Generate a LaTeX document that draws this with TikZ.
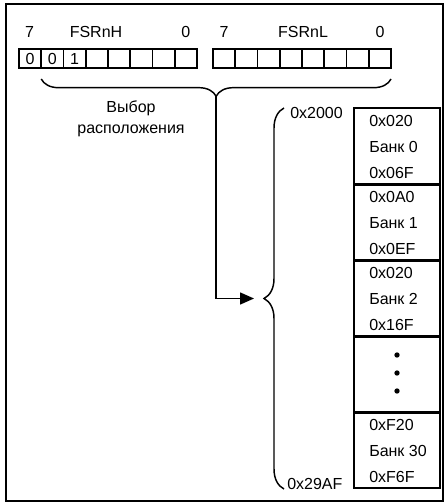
\documentclass[tikz,border=0pt]{standalone}
\usepackage{fontspec}
\setmainfont{Liberation Sans}
\usetikzlibrary{arrows.meta,decorations.pathreplacing}
\begin{document}
\begin{tikzpicture}[x=0.75pt,y=-0.75pt,
  every node/.style={font=\fontsize{12pt}{14pt}\selectfont, inner sep=0pt},
  bitbox/.style={draw, line width=1.2pt, minimum width=16.6875pt, minimum height=14.25pt, text height=8.6pt, text depth=0pt},
  lbl/.style={anchor=base},
  memblk/.style={draw, line width=1pt, minimum width=64.5pt, minimum height=57pt},
  memtxt/.style={anchor=base west},
  memdot/.style={circle, fill, minimum size=4pt},
  conn/.style={line width=1.1pt}
]
\useasboundingbox (0,0) rectangle (444,502);
\draw[line width=1.2pt] (6,4) rectangle (443,501);

% registers
\node[bitbox] (h0) at ({19+22.25*0.5}, 58.5) {0};
\node[bitbox] (h1) at ({19+22.25*1.5}, 58.5) {0};
\node[bitbox] (h2) at ({19+22.25*2.5}, 58.5) {1};
\foreach \i in {3,...,7} {
  \node[bitbox] (h\i) at ({19+22.25*(\i+0.5)}, 58.5) {};
}
\foreach \i in {0,...,7} {
  \node[bitbox] (l\i) at ({213+22.25*(\i+0.5)}, 58.5) {};
}
\node[lbl] (hb7) at (29.6,38) {7};
\node[lbl] (hname) at (96,38) {FSRnH};
\node[lbl] (hb0) at (185.9,38) {0};
\node[lbl] (lb7) at (224.1,38) {7};
\node[lbl] (lname) at (303,38) {FSRnL};
\node[lbl] (lb0) at (380,38) {0};

% location select brace
\coordinate (bs) at (41.25,79);
\coordinate (be) at (391,79);
\draw[conn, decorate, decoration={brace, mirror, amplitude=13pt}] (bs) -- (be);
\coordinate (btip) at (216.1,96.3);
\node[lbl] (sel1) at (131,113) {Выбор};
\node[lbl] (sel2) at (131,134) {расположения};

% address range brace
\coordinate (rs) at (284,108);
\coordinate (re) at (284,489);
\draw[conn, decorate, decoration={brace, mirror, amplitude=15pt}] (rs) -- (re);
\node[anchor=base west] (atop) at (290,119) {0x2000};
\node[anchor=base west] (abot) at (287,489) {0x29AF};

% arrow
\coordinate (atip) at (254,298.5);
\draw[conn, -{Triangle[length=10.5pt,width=9pt]}] (btip) |- (atip);

% memory
\foreach \i in {0,...,4} {
  \node[memblk] (m\i) at (397, {108+76*\i+38}) {};
}
\foreach \i in {0,...,3} {
  \draw[line width=1.5pt] (m\i.south west) -- (m\i.south east);
}
\node[memtxt] (t0a) at (369,126.25) {0x020};
\node[memtxt] (t0b) at (369,152.75) {Банк 0};
\node[memtxt] (t0c) at (369,178.75) {0x06F};
\node[memtxt] (t1a) at (369,202.25) {0x0A0};
\node[memtxt] (t1b) at (369,228.75) {Банк 1};
\node[memtxt] (t1c) at (369,254.75) {0x0EF};
\node[memtxt] (t2a) at (369,278.25) {0x020};
\node[memtxt] (t2b) at (369,304.75) {Банк 2};
\node[memtxt] (t2c) at (369,330.75) {0x16F};
\node[memdot] (d1) at (397,355) {};
\node[memdot] (d2) at (397,373) {};
\node[memdot] (d3) at (397,391) {};
\node[memtxt] (t4a) at (369,430.25) {0xF20};
\node[memtxt] (t4b) at (369,456.75) {Банк 30};
\node[memtxt] (t4c) at (369,482.75) {0xF6F};
\end{tikzpicture}
\end{document}
